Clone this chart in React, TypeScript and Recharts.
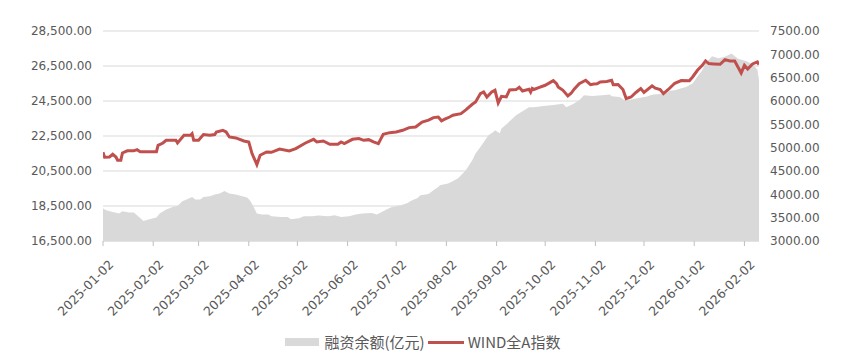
import React from "react";
import { ComposedChart, Area, Line, XAxis, YAxis, CartesianGrid } from "recharts";

const xTickDates = [
  "2025-01-02", "2025-02-02", "2025-03-02", "2025-04-02", "2025-05-02", "2025-06-02", "2025-07-02",
  "2025-08-02", "2025-09-02", "2025-10-02", "2025-11-02", "2025-12-02", "2026-01-02", "2026-02-02",
];
const xDomainDates = ["2025-01-02", "2026-02-11"];
const leftTicks = [16500, 18500, 20500, 22500, 24500, 26500, 28500];
const rightTicks = [3000, 3500, 4000, 4500, 5000, 5500, 6000, 6500, 7000, 7500];

const seriesNames = ["融资余额(亿元)", "WIND全A指数"];

// 融资余额(亿元)
const marginDates = [
  "2025-01-02", "2025-01-04", "2025-01-08", "2025-01-12", "2025-01-14", "2025-01-18", "2025-01-21", "2025-01-23",
  "2025-01-27", "2025-01-30", "2025-02-04", "2025-02-06", "2025-02-10", "2025-02-14", "2025-02-17", "2025-02-20",
  "2025-02-24", "2025-02-26", "2025-02-28", "2025-03-03", "2025-03-05", "2025-03-09", "2025-03-12", "2025-03-15",
  "2025-03-18", "2025-03-21", "2025-03-25", "2025-03-29", "2025-04-01", "2025-04-03", "2025-04-05", "2025-04-07",
  "2025-04-10", "2025-04-14", "2025-04-16", "2025-04-22", "2025-04-26", "2025-04-28", "2025-05-03", "2025-05-06",
  "2025-05-11", "2025-05-15", "2025-05-21", "2025-05-25", "2025-05-29", "2025-06-03", "2025-06-07", "2025-06-11",
  "2025-06-17", "2025-06-20", "2025-06-24", "2025-06-26", "2025-06-29", "2025-07-05", "2025-07-09", "2025-07-11",
  "2025-07-13", "2025-07-15", "2025-07-17", "2025-07-22", "2025-07-25", "2025-07-28", "2025-07-29", "2025-08-03",
  "2025-08-05", "2025-08-09", "2025-08-10", "2025-08-13", "2025-08-14", "2025-08-18", "2025-08-20", "2025-08-23",
  "2025-08-28", "2025-08-31", "2025-09-01", "2025-09-04", "2025-09-05", "2025-09-09", "2025-09-14", "2025-09-18",
  "2025-09-22", "2025-09-25", "2025-10-01", "2025-10-07", "2025-10-13", "2025-10-15", "2025-10-19", "2025-10-23",
  "2025-10-26", "2025-10-31", "2025-11-06", "2025-11-11", "2025-11-12", "2025-11-17", "2025-11-20", "2025-11-24",
  "2025-11-28", "2025-12-04", "2025-12-06", "2025-12-08", "2025-12-12", "2025-12-16", "2025-12-18", "2025-12-21",
  "2025-12-24", "2025-12-28", "2026-01-01", "2026-01-04", "2026-01-07", "2026-01-09", "2026-01-13", "2026-01-17",
  "2026-01-21", "2026-01-25", "2026-01-29", "2026-02-03", "2026-02-07", "2026-02-10", "2026-02-11",
];
const marginValues = [
  18351, 18254, 18157, 18066, 18197, 18123, 18123, 17968,
  17643, 17723, 17837, 18066, 18294, 18443, 18500, 18768,
  18923, 19014, 18866, 18866, 19014, 19054, 19151, 19208,
  19357, 19208, 19151, 19054, 18980, 18786, 18443, 18066,
  18009, 18009, 17911, 17871, 17871, 17740, 17800, 17911,
  17911, 17951, 17911, 17968, 17871, 17911, 18009, 18066,
  18100, 18009, 18200, 18294, 18430, 18540, 18671, 18786,
  18866, 18950, 19111, 19180, 19400, 19586, 19683, 19780,
  19871, 20066, 20157, 20443, 20540, 21111, 21494, 21871,
  22550, 22728, 22826, 22660, 22923, 23250, 23683, 23920,
  24140, 24150, 24220, 24271, 24350, 24140, 24311, 24540,
  24826, 24790, 24826, 24866, 24768, 24730, 24540, 24580,
  24660, 24760, 24826, 24866, 24900, 24957, 25080, 25111,
  25200, 25300, 25500, 25900, 26254, 26637, 27060, 26950,
  27027, 27208, 26910, 26780, 26600, 26300, 25700,
];

// WIND全A指数
const indexDates = [
  "2025-01-02", "2025-01-03", "2025-01-06", "2025-01-08", "2025-01-10", "2025-01-11", "2025-01-13", "2025-01-14",
  "2025-01-17", "2025-01-21", "2025-01-23", "2025-01-25", "2025-02-04", "2025-02-05", "2025-02-08", "2025-02-10",
  "2025-02-16", "2025-02-17", "2025-02-21", "2025-02-25", "2025-02-26", "2025-02-27", "2025-03-02", "2025-03-05",
  "2025-03-09", "2025-03-12", "2025-03-13", "2025-03-17", "2025-03-19", "2025-03-21", "2025-03-25", "2025-03-30",
  "2025-04-02", "2025-04-04", "2025-04-07", "2025-04-09", "2025-04-13", "2025-04-16", "2025-04-21", "2025-04-27",
  "2025-05-01", "2025-05-07", "2025-05-12", "2025-05-14", "2025-05-18", "2025-05-22", "2025-05-27", "2025-05-29",
  "2025-05-31", "2025-06-05", "2025-06-09", "2025-06-12", "2025-06-15", "2025-06-18", "2025-06-21", "2025-06-24",
  "2025-06-28", "2025-07-02", "2025-07-06", "2025-07-10", "2025-07-14", "2025-07-18", "2025-07-22", "2025-07-25",
  "2025-07-28", "2025-07-30", "2025-08-01", "2025-08-04", "2025-08-06", "2025-08-11", "2025-08-14", "2025-08-18",
  "2025-08-20", "2025-08-23", "2025-08-25", "2025-08-27", "2025-08-30", "2025-09-01", "2025-09-03", "2025-09-05",
  "2025-09-08", "2025-09-10", "2025-09-14", "2025-09-16", "2025-09-18", "2025-09-22", "2025-09-23", "2025-09-24",
  "2025-09-25", "2025-09-28", "2025-10-02", "2025-10-07", "2025-10-09", "2025-10-10", "2025-10-13", "2025-10-16",
  "2025-10-18", "2025-10-20", "2025-10-23", "2025-10-27", "2025-10-30", "2025-11-01", "2025-11-03", "2025-11-05",
  "2025-11-09", "2025-11-12", "2025-11-13", "2025-11-16", "2025-11-19", "2025-11-21", "2025-11-24", "2025-11-27",
  "2025-11-30", "2025-12-02", "2025-12-07", "2025-12-09", "2025-12-12", "2025-12-14", "2025-12-17", "2025-12-21",
  "2025-12-25", "2025-12-30", "2026-01-01", "2026-01-04", "2026-01-07", "2026-01-09", "2026-01-11", "2026-01-14",
  "2026-01-18", "2026-01-21", "2026-01-24", "2026-01-27", "2026-01-29", "2026-01-31", "2026-02-02", "2026-02-04",
  "2026-02-07", "2026-02-10", "2026-02-11",
];
const indexValues = [
  4900, 4794, 4800, 4858, 4800, 4730, 4730, 4886,
  4933, 4933, 4958, 4913, 4913, 5051, 5100, 5158,
  5158, 5100, 5265, 5265, 5300, 5158, 5158, 5280,
  5265, 5280, 5336, 5372, 5336, 5229, 5208, 5143,
  5122, 4873, 4637, 4837, 4907, 4900, 4970, 4929,
  4980, 5100, 5179, 5122, 5143, 5072, 5072, 5122,
  5086, 5179, 5194, 5158, 5172, 5122, 5086, 5287,
  5322, 5336, 5372, 5430, 5443, 5550, 5590, 5644,
  5657, 5575, 5610, 5657, 5694, 5730, 5810, 5930,
  5979, 6159, 6193, 6086, 6193, 6229, 5960, 6100,
  6086, 6237, 6244, 6294, 6215, 6250, 6190, 6270,
  6247, 6287, 6337, 6436, 6372, 6301, 6229, 6110,
  6165, 6258, 6372, 6444, 6350, 6365, 6370, 6408,
  6418, 6444, 6350, 6355, 6247, 6051, 6086, 6182,
  6266, 6182, 6326, 6276, 6244, 6159, 6247, 6380,
  6437, 6436, 6515, 6658, 6765, 6858, 6801, 6794,
  6787, 6887, 6858, 6858, 6729, 6600, 6765, 6687,
  6794, 6837, 6780,
];

const toTs = (s: string) => {
  const [y, m, d] = s.split("-").map(Number);
  return Date.UTC(y, m - 1, d);
};
const fmtDate = (t: number) => new Date(t).toISOString().slice(0, 10);

const marginData = marginDates.map((d, i) => ({ t: toTs(d), v: marginValues[i] }));
const indexData = indexDates.map((d, i) => ({ t: toTs(d), v: indexValues[i] }));
const xTicks = xTickDates.map(toTs);
const xDomain = xDomainDates.map(toTs);

const AXIS_FONT = "'DejaVu Sans', sans-serif";
const TEXT = "#595959";
const GRID = "#d9d9d9";
const AREA_FILL = "#d9d9d9";
const LINE_COLOR = "#c0504d";

const XTick = (props: any) => {
  const { x, y, payload } = props;
  return (
    <g transform={`translate(${x + 5},${y + 13})`}>
      <text
        textAnchor="end"
        transform="rotate(-45)"
        dy="0.71em"
        fill={TEXT}
        fontSize={12.5}
        fontFamily={AXIS_FONT}
      >
        {fmtDate(payload.value)}
      </text>
    </g>
  );
};

export default function App() {
  return (
    <div style={{ position: "relative", width: 830, height: 346 }}>
      <ComposedChart
        width={830}
        height={346}
        margin={{ top: 23, right: 0, bottom: 0, left: 0 }}
      >
        <CartesianGrid yAxisId="left" vertical={false} stroke={GRID} />
        <XAxis
          dataKey="t"
          type="number"
          domain={xDomain}
          ticks={xTicks}
          allowDataOverflow
          height={113}
          tickSize={5}
          tickMargin={0}
          axisLine={{ stroke: GRID }}
          tickLine={{ stroke: "#bfbfbf" }}
          tick={<XTick />}
          interval={0}
        />
        <YAxis
          yAxisId="left"
          orientation="left"
          width={95}
          domain={[16500, 28500]}
          ticks={leftTicks}
          axisLine={false}
          tickLine={false}
          tickSize={6}
          tickMargin={5}
          tick={{ fill: TEXT, fontSize: 12, fontFamily: AXIS_FONT }}
          tickFormatter={(v: number) =>
            v.toLocaleString("en-US", { minimumFractionDigits: 2, maximumFractionDigits: 2 })
          }
        />
        <YAxis
          yAxisId="right"
          orientation="right"
          width={79}
          domain={[3000, 7500]}
          ticks={rightTicks}
          axisLine={false}
          tickLine={false}
          tickSize={6}
          tickMargin={5}
          tick={{ fill: TEXT, fontSize: 12, fontFamily: AXIS_FONT, textAnchor: "start" }}
          tickFormatter={(v: number) => v.toFixed(2)}
        />
        <Area
          yAxisId="left"
          data={marginData}
          dataKey="v"
          name={seriesNames[0]}
          type="linear"
          stroke="none"
          fill={AREA_FILL}
          fillOpacity={1}
          isAnimationActive={false}
        />
        <Line
          yAxisId="right"
          data={indexData}
          dataKey="v"
          name={seriesNames[1]}
          type="linear"
          stroke={LINE_COLOR}
          strokeWidth={3}
          dot={false}
          activeDot={false}
          isAnimationActive={false}
        />
      </ComposedChart>
      <div
        style={{
          position: "absolute",
          left: 0,
          top: 324,
          width: 830,
          height: 20,
          display: "flex",
          justifyContent: "center",
          alignItems: "center",
          fontFamily: "'Noto Sans CJK SC', sans-serif",
          fontSize: 15,
          color: TEXT,
          lineHeight: "20px",
        }}
      >
        <span style={{ display: "inline-block", width: 34, height: 8, background: AREA_FILL, marginRight: 5 }} />
        <span style={{ marginRight: 3 }}>{seriesNames[0]}</span>
        <span style={{ display: "inline-block", width: 36, height: 3, background: LINE_COLOR, marginRight: 4 }} />
        <span>{seriesNames[1]}</span>
      </div>
    </div>
  );
}
